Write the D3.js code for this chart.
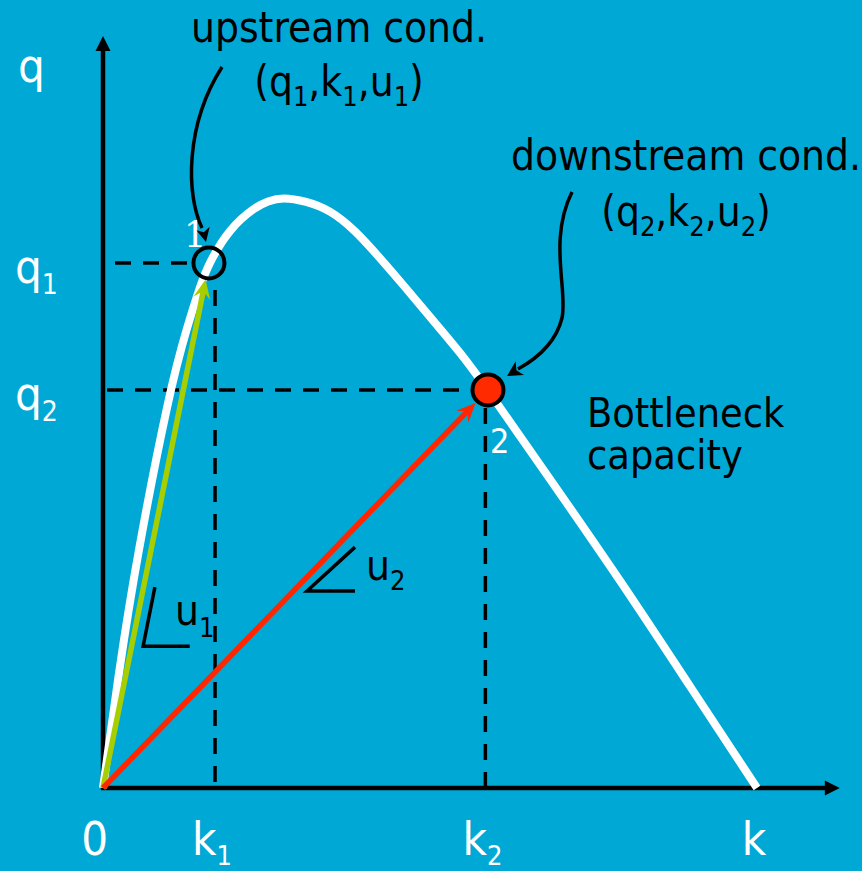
<!DOCTYPE html>
<html>
<head>
<meta charset="utf-8">
<script src="https://cdn.jsdelivr.net/npm/d3@7"></script>
<style>
  html, body { margin: 0; padding: 0; background: #00A9D5; }
  svg { display: block; }
</style>
</head>
<body>
<svg id="chart" width="862" height="871"></svg>
<script>
// Flow–density curve (fundamental diagram of traffic flow)
const densityK = [0, 3.7, 7.6, 15.4, 19.3, 22.3, 24.3, 29.1, 34.9, 37.8, 41.1, 46.6, 52.1, 57.8, 63.5, 69.3, 75.0, 81.9, 88.3, 102.5, 118.6, 134.6, 150];
const flowQ    = [0, 400, 770, 1355, 1560, 1700, 1777, 1895, 1966, 1986, 2000, 1986, 1956, 1888, 1794, 1695, 1594, 1475, 1347, 1046, 704, 345, 0];

// Traffic states: 1 = upstream, 2 = downstream (bottleneck)
const stateNames = ["1", "2"];
const stateK = [24.3, 88.3];
const stateQ = [1777, 1347];

// Axis labels (main symbol + subscript)
const kTickLabels = [["0", ""], ["k", "1"], ["k", "2"], ["k", ""]];
const kTickValues = [-1.2, 25.7, 87.7, 150];
const qTickLabels = [["q", "1"], ["q", "2"]];
const qTickValues = [1777, 1347];
const kGuideValues = [25.7, 87.7];

const kAxisMax = 169;
const qAxisMax = 2545;

const SANS = "'DejaVu Sans Condensed', 'DejaVu Sans', sans-serif";
const SERIF = "'DejaVu Serif', 'Liberation Serif', serif";

const svg = d3.select("#chart");
const W = 862, H = 871;

svg.append("rect").attr("width", W).attr("height", H).attr("fill", "#00A9D5");

const x = d3.scaleLinear().domain([0, 150]).range([103, 757]);
const y = d3.scaleLinear().domain([0, 2000]).range([788, 197]);

const curveData = densityK.map((k, i) => ({ k, q: flowQ[i] }));

// filled arrowhead with a notch (stealth style)
function arrowHead(g, tip, dir, len, half, notch, color) {
  const [dx, dy] = dir;
  const px = -dy, py = dx;
  const bx = tip[0] - len * dx, by = tip[1] - len * dy;
  const nx = tip[0] - notch * dx, ny = tip[1] - notch * dy;
  g.append("path")
    .attr("d", `M${tip[0]},${tip[1]} L${bx + half * px},${by + half * py} L${nx},${ny} L${bx - half * px},${by - half * py} Z`)
    .attr("fill", color);
}
function unit(a, b) {
  const dx = b[0] - a[0], dy = b[1] - a[1];
  const l = Math.hypot(dx, dy);
  return [dx / l, dy / l];
}

// text made of [main, subscript] pieces
function richText(g, px, py, parts, opts) {
  const t = g.append("text")
    .attr("x", px).attr("y", py)
    .attr("font-family", SANS)
    .attr("font-size", opts.size)
    .attr("fill", opts.color)
    .attr("text-anchor", opts.anchor || "start");
  let lowered = false;
  parts.forEach(([m, s]) => {
    const ts = t.append("tspan").text(m);
    if (lowered) { ts.attr("dy", -opts.subDy); lowered = false; }
    if (s) {
      t.append("tspan").attr("dy", opts.subDy).attr("font-size", opts.subSize).text(s);
      lowered = true;
    }
  });
  return t;
}

// ---- axes ----
const axes = svg.append("g");
axes.append("line")
  .attr("x1", x(0)).attr("y1", y(0) + 2)
  .attr("x2", x(0)).attr("y2", y(qAxisMax) + 12)
  .attr("stroke", "#000").attr("stroke-width", 4.5);
arrowHead(axes, [x(0), y(qAxisMax)], [0, -1], 15, 7.5, 15, "#000");
axes.append("line")
  .attr("x1", x(0) - 2).attr("y1", y(0))
  .attr("x2", x(kAxisMax) - 12).attr("y2", y(0))
  .attr("stroke", "#000").attr("stroke-width", 4.5);
arrowHead(axes, [x(kAxisMax), y(0)], [1, 0], 15, 7.5, 15, "#000");

// ---- dashed guides ----
const guides = svg.append("g")
  .attr("stroke", "#000").attr("stroke-width", 3.5)
  .attr("stroke-dasharray", "16,12").attr("fill", "none");
guides.append("line")
  .attr("x1", 115).attr("y1", y(stateQ[0]))
  .attr("x2", x(stateK[0]) - 17).attr("y2", y(stateQ[0]));
guides.append("line")
  .attr("x1", 107).attr("y1", y(stateQ[1]))
  .attr("x2", x(stateK[1]) - 18).attr("y2", y(stateQ[1]));
guides.append("line")
  .attr("x1", x(kGuideValues[0])).attr("y1", y(stateQ[0]) + 27)
  .attr("x2", x(kGuideValues[0])).attr("y2", y(0));
guides.append("line")
  .attr("x1", x(kGuideValues[1])).attr("y1", y(stateQ[1]) + 18)
  .attr("x2", x(kGuideValues[1])).attr("y2", y(0));

// ---- flow-density curve (smoothed through the read points) ----
const line = d3.line().x(d => x(d.k)).y(d => y(d.q)).curve(d3.curveBasis);
svg.append("path")
  .datum(curveData)
  .attr("d", line)
  .attr("fill", "none")
  .attr("stroke", "#fff")
  .attr("stroke-width", 8);

// ---- speed vectors from origin ----
const vecColors = ["#A6CE00", "#FF2600"];
const vecGap = [17, 18];
const vecs = svg.append("g");
stateK.forEach((k, i) => {
  const o = [x(0), y(0)];
  const c = [x(k), y(stateQ[i])];
  const d = unit(o, c);
  const tip = [c[0] - vecGap[i] * d[0], c[1] - vecGap[i] * d[1]];
  const end = [tip[0] - 10 * d[0], tip[1] - 10 * d[1]];
  vecs.append("line")
    .attr("x1", o[0]).attr("y1", o[1])
    .attr("x2", end[0]).attr("y2", end[1])
    .attr("stroke", vecColors[i]).attr("stroke-width", 5.5);
  arrowHead(vecs, tip, d, 19, 8.5, 12, vecColors[i]);
});

// ---- state points ----
const pointFill = ["none", "#FF2A00"];
svg.append("g").selectAll("circle")
  .data(stateK)
  .join("circle")
  .attr("cx", (k) => x(k))
  .attr("cy", (k, i) => y(stateQ[i]))
  .attr("r", 15.5)
  .attr("fill", (k, i) => pointFill[i])
  .attr("stroke", "#000")
  .attr("stroke-width", 4);

// ---- speed slope markers ----
const slopes = svg.append("g").attr("fill", "none").attr("stroke", "#000").attr("stroke-width", 3.5);
const u1Mark = [[11.9, 680], [9.2, 480], [19.9, 480]];
const u2Mark = [[57.8, 815], [46.8, 667], [57.8, 667]];
[u1Mark, u2Mark].forEach(m => {
  slopes.append("path")
    .attr("d", d3.line().x(d => x(d[0])).y(d => y(d[1]))(m));
});
const lab = svg.append("g");
richText(lab, 175, 625, [["u", "1"]], { size: 42, subSize: 27, subDy: 12, color: "#000" });
richText(lab, 366, 580, [["u", "2"]], { size: 42, subSize: 27, subDy: 10, color: "#000" });

// ---- axis labels ----
richText(lab, 18, 82, [["q", ""]], { size: 47, color: "#fff" });
qTickValues.forEach((v, i) => {
  richText(lab, 15, y(v) + 20, [qTickLabels[i]],
    { size: 47, subSize: 28, subDy: 11, color: "#fff" });
});
kTickValues.forEach((v, i) => {
  richText(lab, x(v) - 3, 855, [kTickLabels[i]],
    { size: 47, subSize: 27, subDy: 10, color: "#fff", anchor: "middle" });
});

// ---- annotations ----
const ann = svg.append("g");
richText(ann, 339, 42, [["upstream cond.", ""]], { size: 42, color: "#000", anchor: "middle" });
richText(ann, 339, 96, [["(q", "1"], [",k", "1"], [",u", "1"], [")", ""]],
  { size: 42, subSize: 27, subDy: 10, color: "#000", anchor: "middle" });
richText(ann, 686, 170, [["downstream cond.", ""]], { size: 42, color: "#000", anchor: "middle" });
richText(ann, 686, 226, [["(q", "2"], [",k", "2"], [",u", "2"], [")", ""]],
  { size: 42, subSize: 27, subDy: 10, color: "#000", anchor: "middle" });
const bn = ann.append("text")
  .attr("font-family", SANS).attr("font-size", 41).attr("fill", "#000");
bn.append("tspan").attr("x", 587).attr("y", 427).text("Bottleneck");
bn.append("tspan").attr("x", 587).attr("y", 469).text("capacity");

// callout arrows
const call = svg.append("g");
call.append("path")
  .attr("d", "M222,67 C185,125 186,195 202,228")
  .attr("fill", "none").attr("stroke", "#000").attr("stroke-width", 3.5);
arrowHead(call, [206, 242], unit([200, 216], [206, 242]), 14, 7, 10, "#000");
call.append("path")
  .attr("d", "M572,192 C548,240 568,290 562,318 C556,342 538,358 518,369")
  .attr("fill", "none").attr("stroke", "#000").attr("stroke-width", 3.5);
arrowHead(call, [507, 376], unit([530, 362], [507, 376]), 15, 8, 11, "#000");

// state numbers (on top of the callouts)
svg.append("text")
  .attr("x", x(stateK[0]) - 25).attr("y", 247)
  .attr("font-family", SERIF)
  .attr("font-size", 35).attr("fill", "#fff")
  .text(stateNames[0]);
svg.append("text")
  .attr("x", x(stateK[1]) + 2).attr("y", 453)
  .attr("font-family", SANS)
  .attr("font-size", 34).attr("fill", "#fff")
  .text(stateNames[1]);
</script>
</body>
</html>
